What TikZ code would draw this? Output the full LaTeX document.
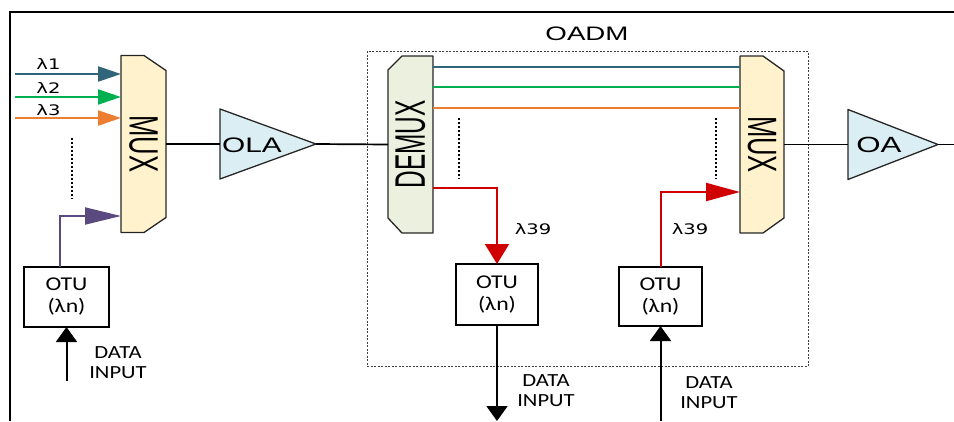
\documentclass[tikz,border=0pt]{standalone}
\usepackage{fontspec}
\usepackage{graphicx}
\setmainfont{Liberation Sans}
\newfontfamily\arw[FakeStretch=1.42]{Liberation Sans}
\newfontfamily\lamf[FakeStretch=1.35]{DejaVu Sans}
\newfontfamily\calf[FakeStretch=1.22]{Carlito}
\usetikzlibrary{arrows.meta,backgrounds}
\definecolor{cteal}{HTML}{31657A}
\definecolor{cgreen}{HTML}{00B050}
\definecolor{corange}{HTML}{ED7D31}
\definecolor{cpurple}{HTML}{5B4A7F}
\definecolor{cred}{HTML}{D00000}
\definecolor{muxfill}{HTML}{FFF2CC}
\definecolor{demuxfill}{HTML}{EBF1DE}
\definecolor{ampfill}{HTML}{DAEEF3}
\begin{document}
\begin{tikzpicture}[x=1pt,y=-1pt,
  blk/.style={draw=none,inner sep=0pt,outer sep=0pt},
  shp/.style={draw=black!85,line width=1.3pt,line join=round},
  conn/.style={draw=black,line width=1.7pt},
  otubox/.style={draw=black,line width=1.3pt,inner sep=0pt,outer sep=0pt,align=center,font=\calf\fontsize{19.5}{22}\selectfont},
  dlabel/.style={align=center,font=\calf\fontsize{18.5}{20}\selectfont},
  lamlabel/.style={font=\lamf\fontsize{14.5}{15}\selectfont},
  dots/.style={line width=2.6pt,dash pattern=on 2pt off 2pt},
  blackarrow/.style={line width=2pt,-{Triangle[length=15pt,width=21pt]}},
  redline/.style={draw=cred,line width=2pt},
]
\useasboundingbox (0,0) rectangle (954,421);

% outer frame
\coordinate (fa) at (10,421);
\coordinate (fb) at (10,12);
\coordinate (fc) at (954,12);
\draw[line width=1.5pt] (fa) -- (fb) -- (fc);

% OADM box
\draw[draw=black!75,line width=0.9pt,dash pattern=on 2pt off 1.5pt] (367,51) rectangle (808,366);
\node[font=\arw\fontsize{19.5}{20}\selectfont] (oadm) at (587,34) {OADM};

% blocks
\node[blk,minimum width=45pt,minimum height=177pt] (mux1) at (143.5,144)
  {\rotatebox{-90}{\scalebox{1}[1.6]{\fontsize{25.6}{26}\selectfont MUX}}};
\node[blk,minimum width=96pt,minimum height=70pt] (ola) at (268,144) {};
\node[font=\arw\fontsize{21}{21}\selectfont] (olat) at (252,145) {OLA};
\node[blk,minimum width=45pt,minimum height=177pt] (demux) at (410.5,144.5)
  {\rotatebox{90}{\scalebox{1}[1.75]{\fontsize{24.4}{25}\selectfont DEMUX}}};
\node[blk,minimum width=44pt,minimum height=177pt] (mux2) at (762,144.5)
  {\rotatebox{-90}{\scalebox{1}[1.6]{\fontsize{25.6}{26}\selectfont MUX}}};
\node[blk,minimum width=90pt,minimum height=70pt] (oa) at (893,144.5) {};
\node[font=\arw\fontsize{22}{22}\selectfont] (oat) at (879,145) {OA};

\begin{scope}[on background layer]
\draw[shp,fill=muxfill] (mux1.north west) -- ([xshift=-22pt]mux1.north east) -- ([yshift=-15pt]mux1.north east)
  -- ([yshift=15pt]mux1.south east) -- ([xshift=-22pt]mux1.south east) -- (mux1.south west) -- cycle;
\draw[shp,fill=demuxfill] (demux.north east) -- ([xshift=14pt]demux.north west) -- ([yshift=-14pt]demux.north west)
  -- ([yshift=15pt]demux.south west) -- ([xshift=14pt]demux.south west) -- (demux.south east) -- cycle;
\draw[shp,fill=muxfill] (mux2.north west) -- ([xshift=-21pt]mux2.north east) -- ([yshift=-15pt]mux2.north east)
  -- ([yshift=15pt]mux2.south east) -- ([xshift=-21pt]mux2.south east) -- (mux2.south west) -- cycle;
\draw[shp,fill=ampfill] (ola.north west) -- (ola.east) -- (ola.south west) -- cycle;
\draw[shp,fill=ampfill] (oa.north west) -- (oa.east) -- (oa.south west) -- cycle;
\end{scope}

% main line
\coordinate (outend) at (954,144.5);
\draw[conn] (mux1.east) -- (ola.west);
\draw[conn] (ola.east) -- (demux.west);
\draw[conn] (mux2.east) -- (oa.west);
\draw[conn] (oa.east) -- (outend);

% left inputs
\coordinate (in1) at (15,74);
\coordinate (in2) at (15,97);
\coordinate (in3) at (15,118);
\draw[draw=cteal,line width=2.2pt,-{Triangle[length=23pt,width=15pt]}] (in1) -- (in1 -| mux1.west);
\draw[draw=cgreen,line width=2.2pt,-{Triangle[length=23pt,width=15pt]}] (in2) -- (in2 -| mux1.west);
\draw[draw=corange,line width=2.2pt,-{Triangle[length=23pt,width=15pt]}] (in3) -- (in3 -| mux1.west);
\node[lamlabel] (l1) at (48.5,64) {λ1};
\node[lamlabel] (l2) at (48.5,88) {λ2};
\node[lamlabel] (l3) at (48.5,110) {λ3};
\coordinate (d1a) at (72,138);
\coordinate (d1b) at (72,199);
\draw[dots] (d1a) -- (d1b);

% OTUs
\node[otubox,minimum width=85pt,minimum height=60pt] (otu1) at (66.5,297) {OTU\\(λn)};
\node[otubox,minimum width=82pt,minimum height=61pt] (otu2) at (497,294.5) {OTU\\(λn)};
\node[otubox,minimum width=83pt,minimum height=59pt] (otu3) at (660.5,296.5) {OTU\\(λn)};

% purple
\coordinate (pin) at (0,216);
\draw[draw=cpurple,line width=2pt,-{Triangle[length=36pt,width=17pt]}]
  ([xshift=-6.5pt]otu1.north) |- (pin -| mux1.west);

% through channels
\coordinate (c1) at (0,67);
\coordinate (c2) at (0,87);
\coordinate (c3) at (0,108);
\draw[draw=cteal,line width=1.8pt] (c1 -| demux.east) -- (c1 -| mux2.west);
\draw[draw=cgreen,line width=1.8pt] (c2 -| demux.east) -- (c2 -| mux2.west);
\draw[draw=corange,line width=1.8pt] (c3 -| demux.east) -- (c3 -| mux2.west);
\coordinate (d2a) at (459,118);
\coordinate (d2b) at (459,179);
\draw[dots] (d2a) -- (d2b);
\coordinate (d3a) at (716,118);
\coordinate (d3b) at (716,179);
\draw[dots] (d3a) -- (d3b);

% drop and add
\coordinate (dropy) at (0,188);
\coordinate (addy) at (0,192);
\draw[redline,-{Triangle[length=20pt,width=24pt]}] (dropy -| demux.east) -| (otu2.north);
\draw[redline,-{Triangle[length=34pt,width=18pt]}] (otu3.north) |- (addy -| mux2.west);
\node[lamlabel] (l39a) at (533,229.5) {λ39};
\node[lamlabel] (l39b) at (690,229.5) {λ39};

% data inputs
\coordinate (di1) at (66.5,381);
\coordinate (di2) at (497,421);
\coordinate (di3) at (660.5,421);
\draw[blackarrow] (di1) -- (otu1.south);
\draw[blackarrow] (otu2.south) -- (di2);
\draw[blackarrow] (di3) -- (otu3.south);
\node[dlabel] (dl1) at (118,363) {DATA\\INPUT};
\node[dlabel] (dl2) at (546,391) {DATA\\INPUT};
\node[dlabel] (dl3) at (709,393) {DATA\\INPUT};
\end{tikzpicture}
\end{document}
